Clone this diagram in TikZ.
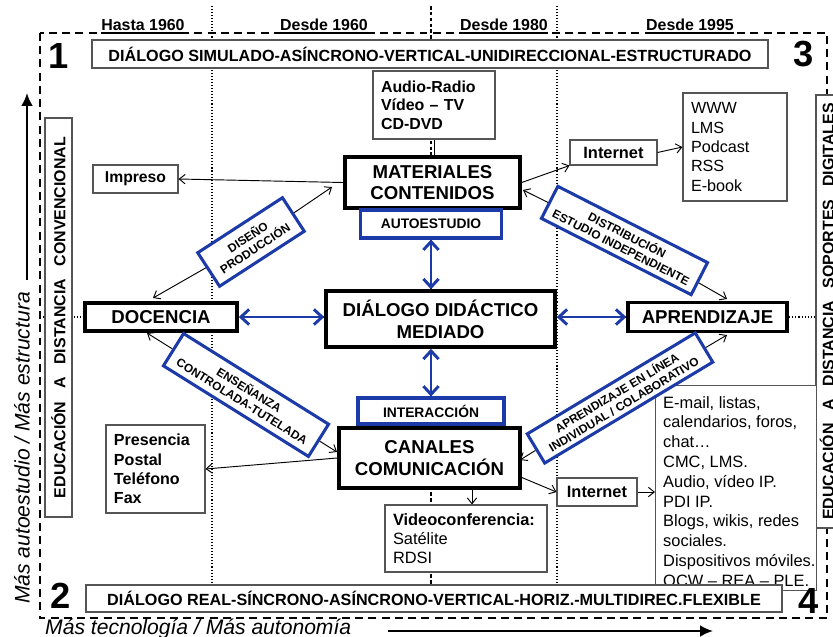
\documentclass[tikz,border=0pt]{standalone}
\usepackage{fontspec}
\setmainfont{Liberation Sans}
\usepackage{tikz}
\usetikzlibrary{arrows.meta,positioning}

\definecolor{diagblue}{RGB}{28,58,168}
\definecolor{boxgray}{RGB}{85,85,85}

\begin{document}
\begin{tikzpicture}[x=0.03cm,y=-0.03cm,
    hdr/.style={font=\fontsize{13.6}{16}\selectfont\bfseries,inner sep=0pt,anchor=base},
    bignum/.style={font=\fontsize{31}{33}\selectfont\bfseries,inner sep=0pt,anchor=base},
    thinbox/.style={draw=boxgray,line width=0.9pt,fill=white,inner sep=0pt},
    longbox/.style={thinbox,font=\fontsize{13.8}{16}\selectfont\bfseries},
    sidebox/.style={thinbox,rotate=90,font=\fontsize{13.6}{16}\selectfont\bfseries},
    mainbox/.style={draw=black,line width=3pt,fill=white,inner sep=0pt,align=center,
        font=\fontsize{15.9}{18.5}\selectfont\bfseries},
    tagbox/.style={draw=diagblue,line width=2.6pt,fill=white,inner sep=0pt,
        font=\fontsize{11.8}{14}\selectfont\bfseries},
    slantbox/.style={draw=diagblue,line width=2.6pt,fill=white,inner sep=0pt,align=center,
        font=\fontsize{10.1}{11.5}\selectfont\bfseries},
    textlist/.style={thinbox,align=left,inner xsep=0.24cm,font=\fontsize{13.8}{16.5}\selectfont},
    axislabel/.style={font=\fontsize{18}{20}\selectfont\itshape,inner sep=0pt},
    thinarrow/.style={-{Straight Barb[length=5pt,width=8pt]},line width=0.8pt},
    bluearrow/.style={{Straight Barb[length=7pt,width=13pt]}-{Straight Barb[length=7pt,width=13pt]},
        draw=diagblue,line width=2.5pt},
    axisarrow/.style={-{Latex[length=11pt,width=10pt]},line width=1.8pt},
    gridline/.style={line width=0.9pt,dash pattern=on 0.9pt off 1.7pt},
    midline/.style={line width=1.3pt,dash pattern=on 3pt off 2pt},
    outerframe/.style={line width=1.7pt,dash pattern=on 6.8pt off 4.5pt}
  ]
    \useasboundingbox (0,0) rectangle (833,636);

    % Period separators and the middle line
    \draw[gridline] (212,6) -- (212,585);
    \draw[gridline] (557,6) -- (557,585);
    \draw[midline] (431,6) -- (431,600);
    \draw[gridline] (40,317) -- (816,317);

    % Dashed frame of the four quadrants
    \draw[outerframe] (40,33) rectangle (827,618);

    % Period headers
    \node[hdr] (h1) at (143,30.5) {Hasta 1960};
    \node[hdr] (h2) at (324,30.5) {Desde 1960};
    \node[hdr] (h3) at (504,30.5) {Desde 1980};
    \node[hdr] (h4) at (690,30.5) {Desde 1995};
    \foreach \h in {h1,h2,h3,h4}
        \draw[line width=1.7pt] ([yshift=-0.08cm]\h.base west) -- ([yshift=-0.08cm]\h.base east);

    % Quadrant numbers
    \node[bignum] (n1) at (59,68) {1};
    \node[bignum] (n3) at (804,66) {3};
    \node[bignum] (n2) at (61,608) {2};

    % Side labels
    \node[sidebox,minimum width=11.97cm,minimum height=0.81cm] (convencional) at (58.5,317.5)
        {EDUCACIÓN\hspace{0.8em}A\hspace{0.8em}DISTANCIA\hspace{0.8em}CONVENCIONAL};
    \node[sidebox,minimum width=12.99cm,minimum height=0.66cm] (digitales) at (827,311.5)
        {EDUCACIÓN\hspace{0.8em}A\hspace{0.8em}DISTANCIA\hspace{0.8em}SOPORTES\hspace{0.8em}DIGITALES};

    % Top dialogue
    \node[longbox,minimum width=20.28cm,minimum height=0.84cm] (simulado) at (430,54)
        {DIÁLOGO SIMULADO-ASÍNCRONO-VERTICAL-UNIDIRECCIONAL-ESTRUCTURADO};

    % Media lists
    \node[textlist,font=\fontsize{13.6}{15.8}\selectfont\bfseries,text width=3.18cm,minimum height=2.04cm] (audio) at (434,105)
        {Audio-Radio\\Vídeo – TV\\CD-DVD};
    \node[textlist,text width=2.64cm,minimum height=3.24cm] (web) at (735,147)
        {WWW\\LMS\\Podcast\\RSS\\E-book};
    \node[thinbox,font=\fontsize{13.4}{16}\selectfont\bfseries,minimum width=2.55cm,minimum height=0.84cm] (impreso) at (135.5,179) {Impreso};
    \node[thinbox,font=\fontsize{14}{16}\selectfont\bfseries,minimum width=2.61cm,minimum height=0.75cm] (internetA) at (613.5,152.5) {Internet};
    \node[textlist,font=\fontsize{13.7}{16.5}\selectfont\bfseries,text width=2.49cm,minimum height=2.64cm] (presencia) at (155.5,469)
        {Presencia\\Postal\\Teléfono\\Fax};
    \node[textlist,font=\fontsize{14}{16.2}\selectfont,text width=4.38cm,minimum height=2.01cm] (videoconf) at (466,538.5)
        {\textbf{Videoconferencia:}\\Satélite\\RDSI};
    \node[thinbox,font=\fontsize{14}{16}\selectfont\bfseries,minimum width=2.4cm,minimum height=0.84cm] (internetB) at (597,492) {Internet};

    % Online tools
    \node[thinbox,anchor=north west,minimum width=4.83cm,minimum height=6.15cm] (lista) at (655,385) {};
    \node[anchor=north west,align=left,inner xsep=0.24cm,inner ysep=0pt,font=\fontsize{14}{16.9}\selectfont] (listatext) at (655,396)
        {E-mail, listas,\\calendarios, foros,\\chat…\\CMC, LMS.\\Audio, vídeo IP.\\PDI IP.\\Blogs, wikis, redes\\sociales.\\Dispositivos móviles.\\OCW – REA – PLE.};

    % Bottom dialogue
    \node[longbox,minimum width=20.88cm,minimum height=0.81cm] (real) at (434,598.5)
        {DIÁLOGO REAL-SÍNCRONO-ASÍNCRONO-VERTICAL-HORIZ.-MULTIDIREC.FLEXIBLE};
    \node[bignum] (n4) at (809,613) {4};

    % Central elements
    \node[mainbox,minimum width=5.25cm,minimum height=1.53cm] (materiales) at (432.5,182.5) {MATERIALES\\CONTENIDOS};
    \node[tagbox,minimum width=4.23cm,minimum height=0.84cm] (autoestudio) at (431,224) {AUTOESTUDIO};
    \node[mainbox,minimum width=6.87cm,minimum height=1.68cm] (dialogo) at (440.5,319) {DIÁLOGO DIDÁCTICO\\MEDIADO};
    \node[tagbox,minimum width=4.38cm,minimum height=0.78cm] (interaccion) at (431,411) {INTERACCIÓN};
    \node[mainbox,minimum width=5.43cm,minimum height=1.8cm] (canales) at (429.5,458) {CANALES\\COMUNICACIÓN};
    \node[mainbox,minimum width=4.56cm,minimum height=0.84cm] (docencia) at (161,317) {DOCENCIA};
    \node[mainbox,minimum width=4.77cm,minimum height=0.87cm] (aprendizaje) at (707.5,317) {APRENDIZAJE};

    % Slanted process labels
    \node[slantbox,rotate=33,minimum width=3.03cm,minimum height=1.2cm] (diseno) at (251,242) {DISEÑO\\PRODUCCIÓN};
    \node[slantbox,rotate=-27,minimum width=5.04cm,minimum height=1.08cm] (distribucion) at (624.5,240.5) {DISTRIBUCIÓN\\ESTUDIO INDEPENDIENTE};
    \node[slantbox,rotate=-32,minimum width=5.13cm,minimum height=1.14cm] (ensenanza) at (246,395) {ENSEÑANZA\\CONTROLADA-TUTELADA};
    \node[slantbox,rotate=31,minimum width=5.88cm,minimum height=1.02cm] (enlinea) at (620,398) {APRENDIZAJE EN LÍNEA\\INDIVIDUAL / COLABORATIVO};

    % Arrow ends
    \coordinate (disA) at (153,298);
    \coordinate (disB) at (332,187);
    \coordinate (distA) at (523,190);
    \coordinate (distB) at (727,299);
    \coordinate (ensA) at (147,333);
    \coordinate (ensB) at (337,452);
    \coordinate (linA) at (520,460);
    \coordinate (linB) at (727,335);

    % Thin connectors
    \draw[thinarrow] (diseno) -- (disA);
    \draw[thinarrow] (diseno) -- (disB);
    \draw[thinarrow] (distribucion) -- (distA);
    \draw[thinarrow] (distribucion) -- (distB);
    \draw[thinarrow] (ensenanza) -- (ensA);
    \draw[thinarrow] (ensenanza) -- (ensB);
    \draw[thinarrow] (enlinea) -- (linA);
    \draw[thinarrow] (enlinea) -- (linB);
    \draw[thinarrow] (materiales.west) -- (impreso.east);
    \draw[thinarrow] (materiales.east) -- (internetA.south west);
    \draw[thinarrow] (internetA.east) -- (web.west);
    \draw[line width=0.8pt] (audio.south) -- (audio.south |- materiales.north);
    \draw[thinarrow] (canales.west) -- (presencia.east);
    \draw[thinarrow] (canales.east |- internetB.north) -- (internetB.west);
    \draw[thinarrow] (internetB.east) -- (internetB.east -| lista.west);
    \draw[thinarrow] ([xshift=0.18cm]videoconf.north |- canales.south) -- ([xshift=0.18cm]videoconf.north);

    % Dialogue arrows
    \draw[bluearrow] (autoestudio.south) -- (autoestudio.south |- dialogo.north);
    \draw[bluearrow] (interaccion.north |- dialogo.south) -- (interaccion.north);
    \draw[bluearrow] (docencia.east) -- (docencia.east -| dialogo.west);
    \draw[bluearrow] (aprendizaje.west -| dialogo.east) -- (aprendizaje.west);

    % Axes
    \coordinate (upfoot) at (27,280);
    \coordinate (uptip) at (27,93);
    \coordinate (rightfoot) at (388,631);
    \coordinate (righttip) at (713,631);
    \node[axislabel,rotate=90] (autoest) at (22,448) {Más autoestudio / Más estructura};
    \node[axislabel,anchor=base west] (tecno) at (45,634) {Más tecnología / Más autonomía};
    \draw[axisarrow] (upfoot) -- (uptip);
    \draw[axisarrow] (rightfoot) -- (righttip);
\end{tikzpicture}
\end{document}
